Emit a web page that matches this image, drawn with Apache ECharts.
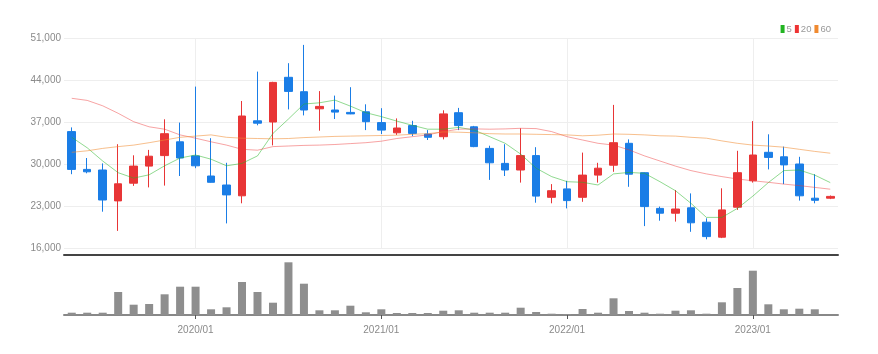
<!DOCTYPE html>
<html>
<head>
<meta charset="utf-8">
<script src="https://cdn.jsdelivr.net/npm/echarts@6/dist/echarts.min.js"></script>
<style>html,body{margin:0;padding:0;background:#fff}#c{width:878px;height:354px}</style>
</head>
<body>
<div id="c"></div>
<script>
const months = ['2019/05','2019/06','2019/07','2019/08','2019/09','2019/10','2019/11','2019/12',
'2020/01','2020/02','2020/03','2020/04','2020/05','2020/06','2020/07','2020/08','2020/09','2020/10','2020/11','2020/12',
'2021/01','2021/02','2021/03','2021/04','2021/05','2021/06','2021/07','2021/08','2021/09','2021/10','2021/11','2021/12',
'2022/01','2022/02','2022/03','2022/04','2022/05','2022/06','2022/07','2022/08','2022/09','2022/10','2022/11','2022/12',
'2023/01','2023/02','2023/03','2023/04','2023/05','2023/06'];
const opens  = [35400,29100,29000,23850,26800,29650,31400,33700,31350,28000,26500,24700,37200,37000,44450,42050,39200,39000,38600,38700,36900,35200,36400,35000,34550,38550,36200,32600,30100,29000,31400,24450,25850,24450,28150,29800,33450,28550,22600,21800,22700,20300,17800,22800,27200,31950,31200,30000,24300,24300];
const closes = [29100,28700,24000,26700,29650,31300,35050,31000,29700,26950,24850,38000,36800,43600,42100,39000,39600,38650,38350,37050,35650,36000,35100,34450,38350,36400,32900,30200,29000,31400,24650,25550,23900,28150,29300,33550,28300,22900,21800,22500,20200,17900,22350,28550,31500,31100,29850,24700,23950,24600];
const lows   = [28300,28450,22050,18850,26350,26100,26400,28000,29300,26900,20100,23450,36450,33100,39100,38100,35550,37500,38300,35650,35000,34850,34650,34000,34100,35650,32800,27350,28000,26900,23550,23450,22600,23700,26900,28700,26200,19650,20550,20400,18700,17450,17650,22350,26900,29100,26650,23900,23450,24150];
const highs  = [36100,31000,30100,33300,31450,32350,37450,36900,42900,34300,30200,40500,45400,43700,46800,49850,42150,41400,42800,39950,39300,37600,37200,35650,38950,39350,36350,33050,33300,35950,32800,26650,27200,31900,30200,39850,34100,28600,22900,25650,25100,20950,25950,32200,37150,34950,32900,31200,28300,24750];
const ma5  = [34450,32700,30500,28550,27650,28200,29700,31000,31500,30800,29700,30100,31350,35100,37500,40000,40200,40650,39650,38550,37900,37150,36450,35800,35800,36100,35650,34550,33450,31650,29300,27900,27050,26950,26500,28350,28600,28450,27050,25550,23450,21100,21100,22600,24650,26900,28900,29000,28150,26900];
const ma20 = [40950,40600,39700,38450,37050,36200,35800,34850,34300,33700,33150,32450,32300,32900,33000,33100,33150,33250,33400,33550,33800,34250,34550,34850,35400,35800,35850,35800,35850,35950,35900,35400,34550,34000,33450,33150,32350,31350,30500,29650,28900,28350,27900,27500,27200,26950,26650,26400,26100,25800];
const ma60 = [31950,32200,32600,32900,33150,33550,34000,34450,34650,34850,34450,34300,34250,34200,34250,34400,34500,34600,34650,34700,34750,34800,34950,35050,35350,35300,35200,35050,35000,35000,34950,34900,34850,34700,34800,35000,34950,34850,34700,34650,34450,34300,33850,33450,33150,33000,32800,32450,32100,31800];
const volumes = [2300,2300,2300,23000,10300,11000,20700,28300,28300,5700,7700,33000,23000,12300,52700,31300,4700,4700,9300,2700,5700,2000,2000,2000,4300,4700,2300,2300,2300,7300,3000,1300,1000,6000,2300,16700,4000,2300,1300,4300,4700,1300,12700,27000,44300,10700,5700,6300,5700,0];
const yTicks = {min:16000, max:51000, interval:7000};
const legendNames = ['5','20','60'];

const candleData = opens.map((o,i)=>[o, closes[i], lows[i], highs[i]]);
const FONT = "'Liberation Sans Narrow', 'Liberation Sans', sans-serif";
const isJan = (i, v) => months[i].endsWith('/01');

const chart = echarts.init(document.getElementById('c'), null, {renderer:'canvas'});
chart.setOption({
  animation:false,
  backgroundColor:'#fff',
  legend:{
    data:legendNames, right:42, top:19, icon:'rect', itemWidth:4, itemHeight:8, itemGap:3,
    textStyle:{fontSize:9.5, color:'#999', fontFamily:FONT, padding:[0,0,0,-3]}
  },
  grid:[
    {left:64, right:40, top:38, height:210},
    {left:64, right:40, top:262, height:53}
  ],
  xAxis:[
    {type:'category', data:months, gridIndex:0, boundaryGap:true,
     axisLabel:{show:false}, axisTick:{show:false},
     axisLine:{show:true, onZero:false, lineStyle:{color:'#444', width:2}}, offset:7,
     splitLine:{show:true, alignWithLabel:true, interval:isJan, lineStyle:{color:'#eee', width:1}}},
    {type:'category', data:months, gridIndex:1, boundaryGap:true,
     axisLine:{show:true, lineStyle:{color:'#888', width:2}},
     axisTick:{show:true, alignWithLabel:true, interval:isJan, length:4, lineStyle:{color:'#555'}},
     axisLabel:{show:true, interval:isJan, color:'#8a8a8a', fontSize:10, fontFamily:FONT, margin:10},
     splitLine:{show:false}}
  ],
  yAxis:[
    {type:'value', gridIndex:0, min:yTicks.min, max:yTicks.max, interval:yTicks.interval,
     axisLine:{show:false}, axisTick:{show:false},
     axisLabel:{color:'#8a8a8a', fontSize:10, fontFamily:FONT, margin:3,
       formatter:v=>v.toLocaleString('en-US')},
     splitLine:{show:true, lineStyle:{color:'#eee'}}},
    {type:'value', gridIndex:1, min:0, max:53000, show:false, splitLine:{show:false}}
  ],
  series:[
    {type:'candlestick', name:'candle', xAxisIndex:0, yAxisIndex:0, data:candleData, barWidth:8,
     itemStyle:{color:'#e83536', color0:'#1a7de6', borderColor:'#e83536', borderColor0:'#1a7de6', borderWidth:1}},
    {type:'line', name:'5', data:ma5, xAxisIndex:0, yAxisIndex:0, showSymbol:false, smooth:false,
     itemStyle:{color:'#22b422'}, lineStyle:{color:'#22b422', width:1, opacity:0.5}},
    {type:'line', name:'20', data:ma20, xAxisIndex:0, yAxisIndex:0, showSymbol:false,
     itemStyle:{color:'#ee3333'}, lineStyle:{color:'#ee3333', width:1, opacity:0.45}},
    {type:'line', name:'60', data:ma60, xAxisIndex:0, yAxisIndex:0, showSymbol:false,
     itemStyle:{color:'#f08a30'}, lineStyle:{color:'#f08a30', width:1, opacity:0.55}},
    {type:'bar', name:'volume', data:volumes, xAxisIndex:1, yAxisIndex:1, barWidth:8,
     itemStyle:{color:'#8e8e8e'}}
  ]
});
</script>
</body>
</html>
